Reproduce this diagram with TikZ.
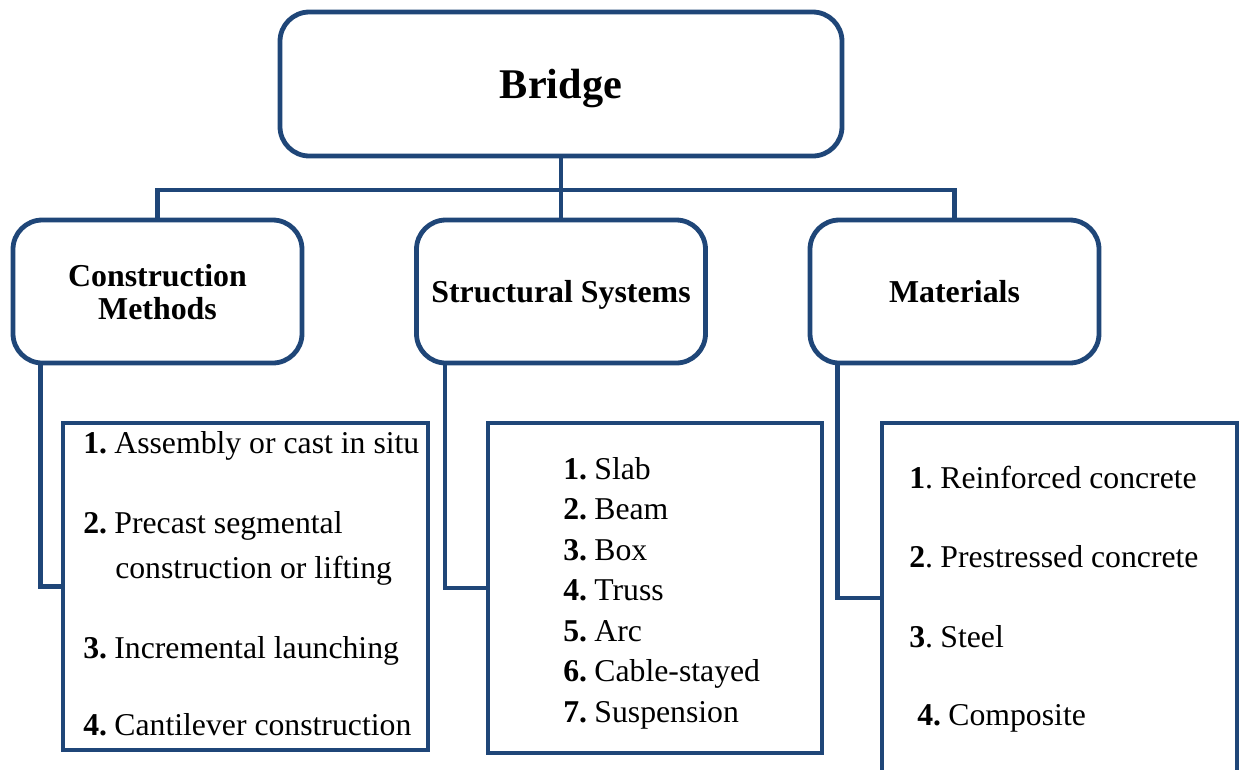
\documentclass[tikz,border=0pt]{standalone}
\usepackage{fontspec}
\setmainfont{Liberation Serif}
\usepackage{xcolor}
\usepackage{tikz}
\definecolor{brgblue}{HTML}{1F4678}
\newcommand{\bno}[1]{\textbf{#1}\hspace{5.5pt}}

\begin{document}
\begin{tikzpicture}[x=0.75pt,y=-0.75pt,
  headbox/.style={draw=brgblue,line width=3.6pt,rounded corners=22pt,fill=white,
    minimum width=216.75pt,minimum height=107.25pt,align=center,inner sep=0pt,
    text depth=0pt,font=\fontsize{23.9}{24.8}\selectfont\bfseries},
  listbox/.style={draw=brgblue,line width=3pt,fill=white,inner sep=0pt},
  link/.style={draw=brgblue,line width=3.2pt},
  item/.style={anchor=base west,inner sep=0pt,font=\fontsize{23.8}{28}\selectfont}]
  \useasboundingbox (0,0) rectangle (1240,769);
  \clip (0,0) rectangle (1240,769);
  % top level
  \node[headbox,minimum width=421.5pt,minimum height=108pt,
    font=\fontsize{31.7}{34}\selectfont\bfseries] (bridge) at (561,84) {Bridge};
  \node[headbox] (cons) at (157.5,291.5) {Construction\\Methods};
  \node[headbox] (struct) at (561,291.5) {Structural Systems};
  \node[headbox] (mat) at (954.5,291.5) {Materials};
  \coordinate (bus) at (561,190);
  \draw[link] (bridge.south) -- (struct.north);
  \draw[link] (cons.north) |- (bus) -| (mat.north);
  % lists
  \node[listbox,minimum width=273.75pt,minimum height=245.25pt] (conslist) at (245.5,586.5) {};
  \node[listbox,minimum width=250.5pt,minimum height=247.5pt] (structlist) at (655,588) {};
  \node[listbox,minimum width=266.25pt,minimum height=262.5pt] (matlist) at (1059.5,598) {};
  \draw[link] ([xshift=22.5pt]cons.south west) |- (conslist.west);
  \draw[link] ([xshift=23pt]struct.south west) |- (structlist.west);
  \draw[link] ([xshift=22.5pt]mat.south west) |- (matlist.west);
  % construction methods
  \node[item] (c1) at (83,453) {\bno{1.}Assembly or cast in situ};
  \node[item] (c2) at (83,533) {\bno{2.}Precast segmental};
  \node[item] (c2b) at (115,578) {construction or lifting};
  \node[item] (c3) at (83,658) {\bno{3.}Incremental launching};
  \node[item] (c4) at (83,735) {\bno{4.}Cantilever construction};
  % structural systems
  \node[item] (s1) at (563,479) {\bno{1.}Slab};
  \node[item] (s2) at (563,519.5) {\bno{2.}Beam};
  \node[item] (s3) at (563,560) {\bno{3.}Box};
  \node[item] (s4) at (563,600.5) {\bno{4.}Truss};
  \node[item] (s5) at (563,641) {\bno{5.}Arc};
  \node[item] (s6) at (563,681.5) {\bno{6.}Cable-stayed};
  \node[item] (s7) at (563,722) {\bno{7.}Suspension};
  % materials
  \node[item] (m1) at (909,488) {\textbf{1}.\hspace{5.5pt}Reinforced concrete};
  \node[item] (m2) at (909,567) {\textbf{2}.\hspace{5.5pt}Prestressed concrete};
  \node[item] (m3) at (909,647) {\textbf{3}.\hspace{5.5pt}Steel};
  \node[item] (m4) at (917,725) {\bno{4.}Composite};
\end{tikzpicture}
\end{document}
